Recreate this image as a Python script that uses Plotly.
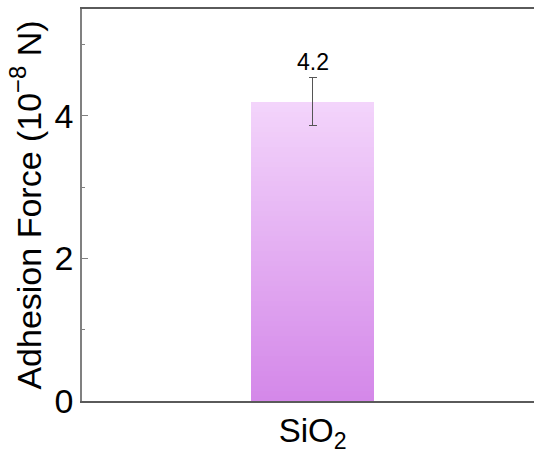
import plotly.graph_objects as go

categories = ["SiO<sub>2</sub>"]
values = [4.2]
errors = [0.34]
value_labels = ["4.2"]

top_color = (243, 212, 251)
bottom_color = (212, 136, 233)
n_seg = 60

fig = go.Figure()
for i in range(n_seg):
    t = i / (n_seg - 1)
    c = tuple(round(bottom_color[k] + (top_color[k] - bottom_color[k]) * t) for k in range(3))
    last = i == n_seg - 1
    fig.add_trace(go.Bar(
        x=categories,
        y=[v / n_seg for v in values],
        width=0.5,
        marker=dict(color="rgb(%d,%d,%d)" % c, line=dict(width=0)),
        error_y=dict(type="data", array=errors, visible=True, color="#555555",
                     thickness=1, width=4) if last else None,
        showlegend=False,
        hoverinfo="skip",
    ))

for cat, v, e, lab in zip(categories, values, errors, value_labels):
    fig.add_annotation(x=cat, y=v + e, text=lab, showarrow=False, yanchor="bottom",
                       yshift=0, font=dict(size=23, color="black"))

fig.update_layout(
    barmode="stack",
    bargap=0,
    width=534, height=455,
    margin=dict(l=82, r=0, t=9, b=54),
    paper_bgcolor="white", plot_bgcolor="white",
    font=dict(family="Arial, Liberation Sans, sans-serif", color="black"),
    xaxis=dict(
        range=[-0.937, 0.9], showline=True, linecolor="#5a5a5a", linewidth=1.5,
        mirror=True, ticks="", showgrid=False, tickfont=dict(size=33),
    ),
    yaxis=dict(
        range=[0, 5.5], dtick=2, tick0=0, showline=True, linecolor="#808080",
        linewidth=1.5, ticks="inside", ticklen=6, tickcolor="#808080",
        showgrid=False, zeroline=False, tickfont=dict(size=34),
        minor=dict(ticks="inside", ticklen=3, dtick=1, tickcolor="#808080"),
        title=dict(text="Adhesion Force (10<sup>−8</sup> N)", font=dict(size=34), standoff=3),
    ),
)

fig.write_html("out.html")
